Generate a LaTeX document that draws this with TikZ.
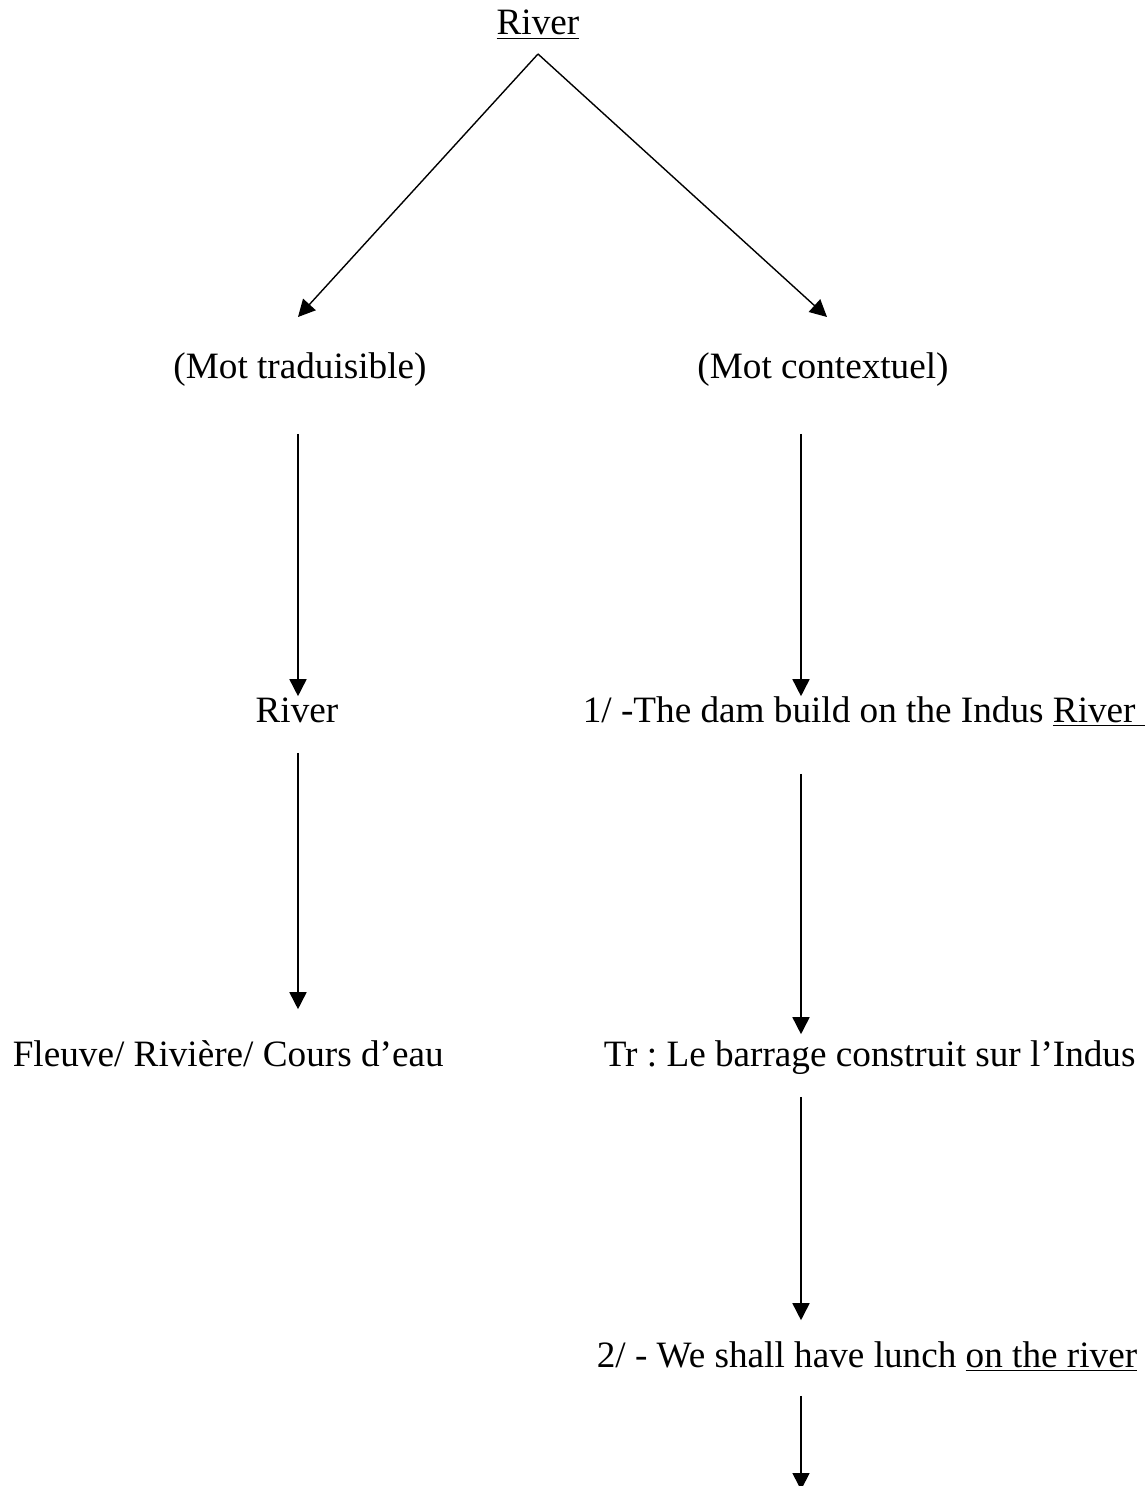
\documentclass[tikz,border=0pt]{standalone}
\usepackage{fontspec}
\setmainfont{Liberation Serif}
\frenchspacing
\usetikzlibrary{arrows.meta}
\tikzset{
    txt/.style={inner sep=0pt, text height=12.5pt, text depth=4pt, font=\fontsize{18.6pt}{22pt}\selectfont},
}
\begin{document}
\begin{tikzpicture}[>={Triangle[length=8.5pt,width=8.5pt]}, x=.5pt, y=-.5pt, line width=.8pt]
\useasboundingbox (0,0) rectangle (1146,1486);

\node[txt, anchor=base] (top) at (538,35) {\underline{River}};
\node[txt, anchor=base] (trad) at (300,379) {(Mot traduisible)};
\node[txt, anchor=base] (ctx) at (823,379) {(Mot contextuel)};
\node[txt, anchor=base] (riv) at (297,722) {River};
\node[txt, anchor=base west] (dam) at (582,722) {1/ -The dam build on the Indus \underline{River~}};
\node[txt, anchor=base west] (fleuve) at (12,1066) {Fleuve/ Rivière/ Cours d’eau};
\node[txt, anchor=base west] (tr) at (603,1066) {Tr : Le barrage construit sur l’Indus};
\node[txt, anchor=base west] (lunch) at (596,1367) {2/ - We shall have lunch \underline{on the river}};

\coordinate (apex) at (538,54);
\coordinate (tipL) at (298,317);
\coordinate (tipR) at (827,317);
\coordinate (colL) at (298,0);
\coordinate (colR) at (801,0);
\coordinate (next) at (801,1490);

\draw[->, line width=.7pt] (apex)--(tipL);
\draw[->, line width=.7pt] (apex)--(tipR);
\draw[->, shorten <=23pt] (trad.south -| colL)--(riv.north -| colL);
\draw[->, shorten <=23pt] (ctx.south -| colR)--(dam.north -| colR);
\draw[->, shorten <=11pt, shorten >=15.5pt] (riv.south -| colL)--(fleuve.north -| colL);
\draw[->, shorten <=21.5pt, shorten >=3pt] (dam.south -| colR)--(tr.north -| colR);
\draw[->, shorten <=11pt, shorten >=10.5pt] (tr.south -| colR)--(lunch.north -| colR);
\draw[->, shorten <=10pt] (lunch.south -| colR)--(next);
\end{tikzpicture}
\end{document}
